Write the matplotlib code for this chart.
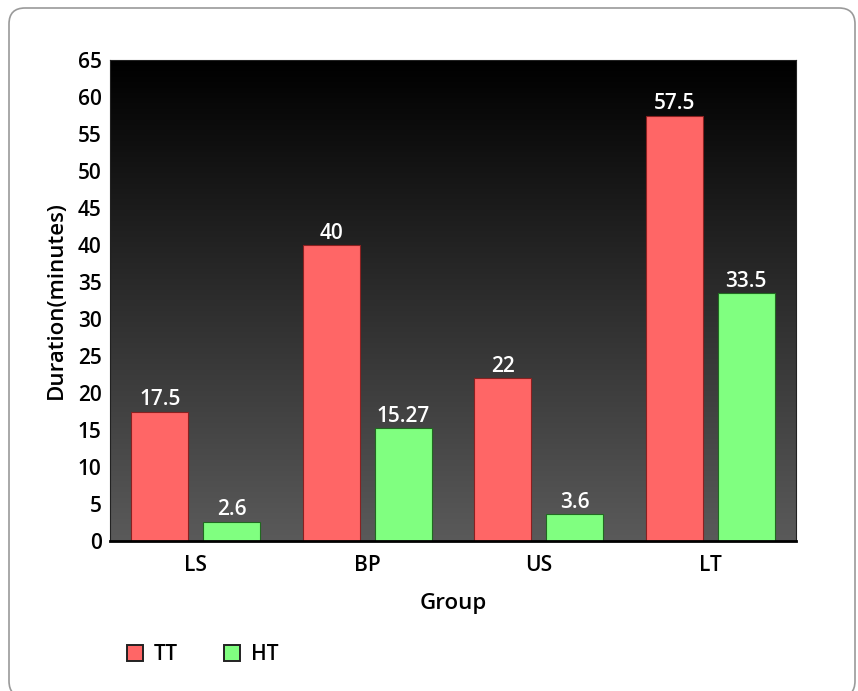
import matplotlib.pyplot as plt
import numpy as np
from matplotlib.patches import FancyBboxPatch, Patch
from matplotlib.colors import LinearSegmentedColormap

plt.rcParams['font.family'] = ['Open Sans', 'DejaVu Sans']

groups = ['LS', 'BP', 'US', 'LT']
tt = [17.5, 40, 22, 57.5]
ht = [2.6, 15.27, 3.6, 33.5]
tt_labels = ['17.5', '40', '22', '57.5']
ht_labels = ['2.6', '15.27', '3.6', '33.5']

W, H = 858, 691
fig = plt.figure(figsize=(W / 100, H / 100), dpi=100)

# rounded outer frame, drawn in pixel coords
frame = FancyBboxPatch((9, -6), 846, 689,
                       boxstyle="round,pad=0,rounding_size=16",
                       transform=None, fill=False,
                       edgecolor='#9a9a9a', linewidth=1.2)
fig.patches.append(frame)

ax = fig.add_axes([110 / W, 1 - 541 / H, 686 / W, 481 / H])

# dark vertical gradient background
grad = np.linspace(0, 1, 256).reshape(-1, 1)
bg = LinearSegmentedColormap.from_list('bg', ['#000000', '#5a5a5a'])
ax.imshow(grad, extent=(-0.5, 3.5, 0, 65), aspect='auto', origin='upper',
          cmap=bg, zorder=0)

x = np.arange(len(groups))
off = 0.21
bw = 0.33
b1 = ax.bar(x - off, tt, bw, color='#ff6666', edgecolor='#8a2020', linewidth=0.8, zorder=2)
b2 = ax.bar(x + off, ht, bw, color='#80ff80', edgecolor='#206a20', linewidth=0.8, zorder=2)

for rect, lab in zip(b1, tt_labels):
    ax.text(rect.get_x() + rect.get_width() / 2, rect.get_height() + 0.2, lab,
            ha='center', va='bottom', color='white', fontsize=15,
            fontweight='semibold', zorder=3)
for rect, lab in zip(b2, ht_labels):
    ax.text(rect.get_x() + rect.get_width() / 2, rect.get_height() + 0.2, lab,
            ha='center', va='bottom', color='white', fontsize=15,
            fontweight='semibold', zorder=3)

ax.set_xlim(-0.5, 3.5)
ax.set_ylim(0, 65)
ax.set_yticks(np.arange(0, 66, 5))
ax.set_xticks(x)
ax.set_xticklabels(groups)
ax.tick_params(length=0, labelsize=15, pad=6)
ax.tick_params(axis='x', pad=10)
for t in ax.get_xticklabels() + ax.get_yticklabels():
    t.set_fontweight('semibold')
for s in ['top', 'right', 'left']:
    ax.spines[s].set_color('#222222')
    ax.spines[s].set_linewidth(0.8)
ax.spines['bottom'].set_color('black')
ax.spines['bottom'].set_linewidth(2)

ax.set_xlabel('Group', fontsize=16, fontweight='semibold', labelpad=12)
ax.set_ylabel('Duration(minutes)', fontsize=16, fontweight='semibold', labelpad=8)

handles = [Patch(facecolor='#ff6666', edgecolor='#222222', linewidth=1.4),
           Patch(facecolor='#80ff80', edgecolor='#222222', linewidth=1.4)]
fig.legend(handles, ['TT', 'HT'], loc='center left',
           bbox_to_anchor=(108 / W, 1 - 655 / H), ncol=2, frameon=False,
           prop={'size': 15, 'weight': 'semibold'},
           handlelength=0.8, handleheight=0.8,
           handletextpad=0.5, columnspacing=2.2)

plt.savefig('out.png', dpi=100)
